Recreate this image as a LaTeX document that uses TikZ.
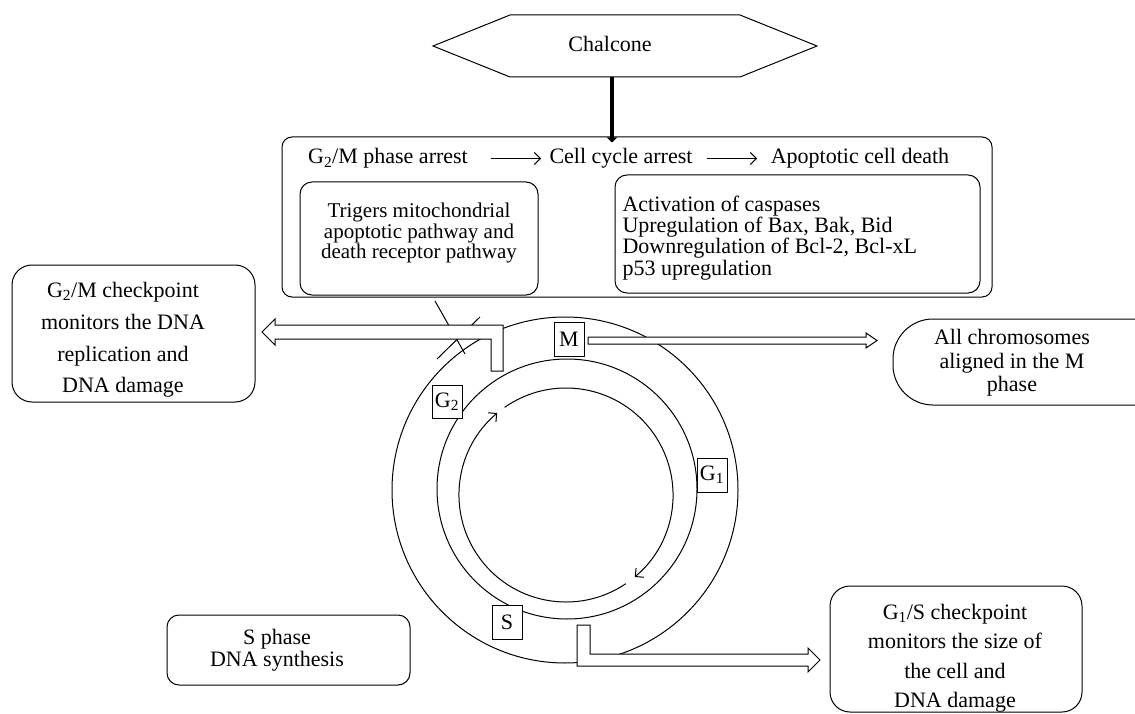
\documentclass[tikz,border=0pt]{standalone}
\usepackage{fontspec}
\setmainfont{Liberation Serif}
\usetikzlibrary{arrows.meta}
\begin{document}
\lineskiplimit=-100pt
\begin{tikzpicture}[x=1pt,y=-1pt, line width=1pt,
  box/.style={draw, fill=white, inner sep=0pt},
  txt/.style={inner sep=0pt, align=center, font=\fontsize{22}{21}\selectfont},
  phase/.style={draw, fill=white, inner sep=0pt, minimum width=30pt, minimum height=34pt, font=\fontsize{22}{21}\selectfont},
  thinarr/.style={-{Straight Barb[length=6pt,width=12pt]}},
  hollow/.style={draw, fill=white, line width=1pt, line join=miter}
]
\useasboundingbox (0,0) rectangle (1135,714);
\clip (0,0) rectangle (1135,714);

% ---- cycle circles ----
\coordinate (oc) at (565,490);
\coordinate (mc) at (567,489);
\coordinate (ic) at (566,495);
\draw (oc) circle[radius=173pt];
\draw (mc) circle[radius=130pt];
\draw[thinarr] ([shift={(125:107pt)}]ic) arc[start angle=125, end angle=-50, radius=107pt];
\draw[thinarr] ([shift={(-56:107pt)}]ic) arc[start angle=-56, end angle=-230, radius=107pt];

% ---- checkpoint marks ----
\draw (435,301) -- (465,354);
\draw (480,317) -- (437,359);

% ---- hollow arrows ----
\path[hollow] (262,332) -- (275,319) -- (275,325) -- (503,325) -- (503,371) -- (491,371) -- (491,339) -- (275,339) -- (275,345) -- cycle;
\path[hollow] (588,337) -- (866,337) -- (866,333) -- (877,340.5) -- (866,348) -- (866,344) -- (588,344) -- cycle;
\path[hollow] (577,625) -- (590,625) -- (590,654) -- (808,654) -- (808,648) -- (820,660) -- (808,672) -- (808,666) -- (577,666) -- cycle;

% ---- phase labels ----
\node[phase] (pm) at (569,339) {M};
\node[phase, minimum height=33pt] (pg2) at (447,402) {G\textsubscript{2}};
\node[phase] (pg1) at (712,475) {G\textsubscript{1}};
\node[phase] (ps) at (507,622) {S};

% ---- Chalcone ----
\draw (433,46) -- (510,15) -- (740,15) -- (817,46) -- (740,77) -- (510,77) -- cycle;
\node[txt, anchor=base] (chal) at (610,52) {Chalcone};

% ---- big box ----
\node[box, rounded corners=10pt, minimum width=710pt, minimum height=160pt] (big) at (637,217) {};
\node[box, rounded corners=12pt, minimum width=238pt, minimum height=113pt] (lbox) at (419,238.5) {};
\node[box, rounded corners=12pt, minimum width=365pt, minimum height=118pt] (rbox) at (797.5,234) {};

\coordinate (hb) at (612,77);
\coordinate (bt) at (big.north -| hb);
\draw[line width=4.5pt, -{Triangle[length=5pt,width=10pt]}] (hb) -- ([yshift=-6pt]bt);

\node[txt, anchor=base] (t1) at (388,164) {G\textsubscript{2}/M phase arrest};
\node[txt, anchor=base] (t2) at (621,164) {Cell cycle arrest};
\node[txt, anchor=base] (t3) at (860,164) {Apoptotic cell death};
\draw[thinarr] (491,158.5) coordinate (a1s) -- (541,158.5) coordinate (a1e);
\draw[thinarr] (707,158.5) coordinate (a2s) -- (757,158.5) coordinate (a2e);

\node[txt, font=\fontsize{21}{20.5}\selectfont] (tl) at (419,233) {Trigers mitochondrial\\apoptotic pathway and\\death receptor pathway};
\node[txt, align=left, anchor=west, font=\fontsize{22}{21.2}\selectfont] (tr) at (622,238) {Activation of caspases\\Upregulation of Bax, Bak, Bid\\Downregulation of Bcl-2, Bcl-xL\\p53 upregulation};

% ---- side boxes ----
\node[box, rounded corners=20pt, minimum width=243pt, minimum height=137pt] (g2box) at (133.5,333.5) {};
\node[txt, font=\fontsize{22}{31.7}\selectfont] (g2txt) at (123,340) {G\textsubscript{2}/M checkpoint\\monitors the DNA\\replication and\\DNA damage};

\node[box, rounded corners=40pt, minimum width=282pt, minimum height=86pt] (mbox) at (1034,362) {};
\node[txt, font=\fontsize{22}{23.5}\selectfont] (mtxt) at (1012,363) {All chromosomes\\aligned in the M\\phase};

\node[box, rounded corners=12pt, minimum width=243pt, minimum height=70pt] (sbox) at (288.5,650) {};
\node[txt, font=\fontsize{22}{22}\selectfont] (stxt) at (277,650) {S phase\\DNA synthesis};

\node[box, rounded corners=20pt, minimum width=252pt, minimum height=126pt] (g1box) at (956,649) {};
\node[txt, font=\fontsize{22}{29.5}\selectfont] (g1txt) at (955,658) {G\textsubscript{1}/S checkpoint\\monitors the size of\\the cell and\\DNA damage};
\end{tikzpicture}
\end{document}
